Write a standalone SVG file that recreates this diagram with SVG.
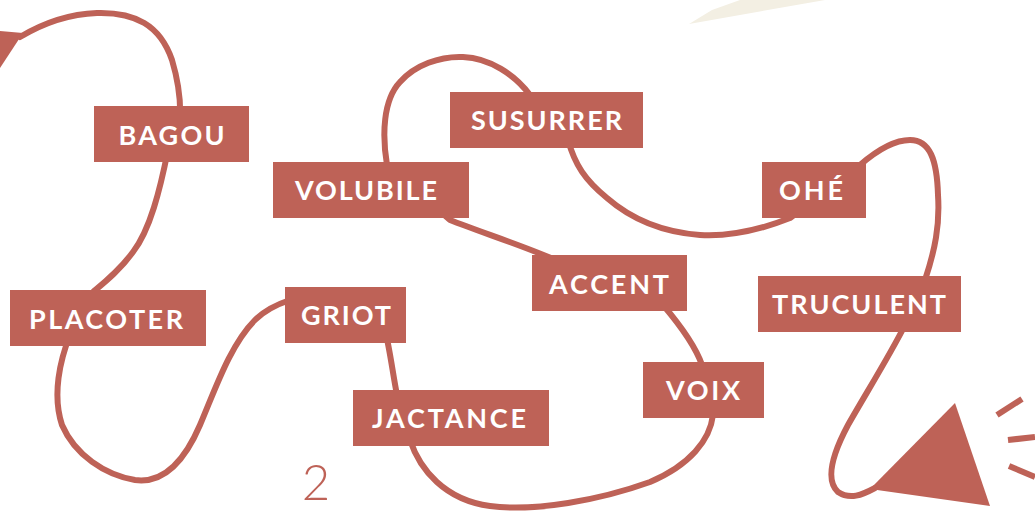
<svg xmlns="http://www.w3.org/2000/svg" width="1035" height="511" viewBox="0 0 1035 511">
<style>
.box{fill:#be6257}
.lbl{fill:#ffffff;font-family:Lato,"Open Sans","Liberation Sans",sans-serif;font-weight:700;font-size:27px;text-anchor:middle}
.wire{fill:none;stroke:#be6257;stroke-width:6;stroke-linecap:round;stroke-linejoin:round}
.ray{stroke:#be6257;stroke-width:6;stroke-linecap:butt}
</style>
<rect width="1035" height="511" fill="#ffffff"/>
<polygon points="689,24 712,10 740,0 825,0" fill="#f3efe3"/>
<polygon points="0,31 23,33 0,68" fill="#be6257"/>
<polygon points="955,403 990,506 870,489" fill="#be6257"/>
<line class="ray" x1="997" y1="415" x2="1022" y2="399"/>
<line class="ray" x1="1008" y1="440" x2="1035" y2="437"/>
<line class="ray" x1="1009" y1="466" x2="1035" y2="477"/>
<text x="316" y="500" fill="#be6257" font-family="Lato,'Open Sans',sans-serif" font-weight="300" font-size="49" text-anchor="middle">2</text>
<g id="connectors">
<path class="wire" d="M20,37 C45,22 70,14 97,13 C135,12 160,25 172,60 C178,80 181,100 180,120 L168,150 C160,190 150,230 133,252 C120,270 105,282 93,292 L70,335 C60,360 52,395 62,425 C75,455 105,475 135,480 C165,484 185,460 200,425 C215,390 230,345 255,320 C265,310 275,305 290,300 L385,330 C390,350 393,375 397,395 L410,440 C420,470 445,500 490,506 C535,512 600,500 650,482 C690,465 710,440 713,415 L702,365 C695,345 680,325 663,305 L560,262 C530,248 480,232 450,220 L387,165 C382,135 383,100 400,82 C415,65 440,56 463,57 C490,58 515,75 530,95 L568,140 C575,165 585,180 607,198 C630,218 660,232 700,235 C735,237 765,228 790,218 L860,165 C875,152 892,140 910,140 C930,140 937,160 938,195 C940,225 935,250 925,280 L905,325 C890,355 865,395 848,425 C832,455 825,480 838,492 C850,500 862,495 875,488"/>
</g>
<g id="node-bagou"><rect class="box" x="94" y="106" width="155" height="56"/><text class="lbl" x="171.5" y="145" textLength="106" lengthAdjust="spacing">BAGOU</text></g>
<g id="node-placoter"><rect class="box" x="10" y="290" width="196" height="56"/><text class="lbl" x="106" y="329" textLength="154" lengthAdjust="spacing">PLACOTER</text></g>
<g id="node-susurrer"><rect class="box" x="450" y="92" width="193" height="56"/><text class="lbl" x="546.5" y="130" textLength="151" lengthAdjust="spacing">SUSURRER</text></g>
<g id="node-volubile"><rect class="box" x="273" y="162" width="196" height="56"/><text class="lbl" x="366" y="200" textLength="142" lengthAdjust="spacing">VOLUBILE</text></g>
<g id="node-ohe"><rect class="box" x="762" y="162" width="104" height="56"/><text class="lbl" x="811" y="200" textLength="64" lengthAdjust="spacing">OHÉ</text></g>
<g id="node-accent"><rect class="box" x="532" y="255" width="155" height="56"/><text class="lbl" x="609" y="294" textLength="120" lengthAdjust="spacing">ACCENT</text></g>
<g id="node-truculent"><rect class="box" x="758" y="276" width="203" height="56"/><text class="lbl" x="859" y="314" textLength="174" lengthAdjust="spacing">TRUCULENT</text></g>
<g id="node-griot"><rect class="box" x="285" y="287" width="121" height="56"/><text class="lbl" x="346" y="325" textLength="90" lengthAdjust="spacing">GRIOT</text></g>
<g id="node-voix"><rect class="box" x="643" y="362" width="121" height="56"/><text class="lbl" x="703" y="400" textLength="74" lengthAdjust="spacing">VOIX</text></g>
<g id="node-jactance"><rect class="box" x="353" y="390" width="196" height="56"/><text class="lbl" x="449" y="428" textLength="154" lengthAdjust="spacing">JACTANCE</text></g>
</svg>
